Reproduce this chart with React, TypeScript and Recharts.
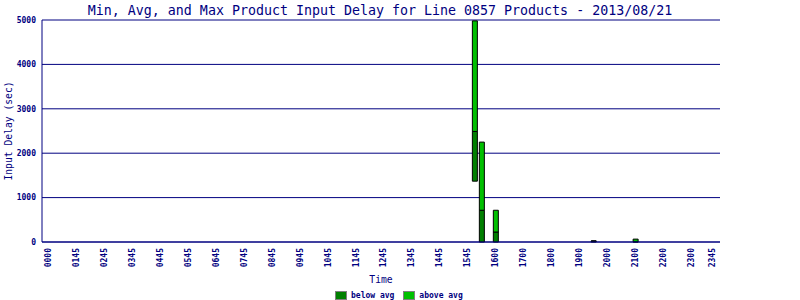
import { Bar, BarChart, CartesianGrid, XAxis, YAxis } from "recharts";

const NAVY = "#000080";
const DARK_GREEN = "#008000";
const LIGHT_GREEN = "#00c000";
const MONO = "'DejaVu Sans Mono', monospace";

// 15-minute slots across the day
const SLOTS: string[] = [];
for (let h = 0; h < 24; h++) {
  for (let m = 0; m < 60; m += 15) {
    SLOTS.push(String(h).padStart(2, "0") + String(m).padStart(2, "0"));
  }
}

const TICK_SLOTS = [
  "0000", "0100", "0200", "0300", "0400", "0500", "0600", "0700", "0800",
  "0900", "1000", "1100", "1200", "1300", "1400", "1500", "1600", "1700",
  "1800", "1900", "2000", "2100", "2200", "2300", "2345",
];
const TICK_LABELS = [
  "0000", "0145", "0245", "0345", "0445", "0545", "0645", "0745", "0845",
  "0945", "1045", "1145", "1245", "1345", "1445", "1545", "1600", "1700",
  "1800", "1900", "2000", "2100", "2200", "2300", "2345",
];

const ACTIVE_SLOTS = ["1515", "1530", "1600", "1930", "2100"];
const MIN_DELAY = [1370, 0, 0, 0, 0];
const AVG_DELAY = [2490, 715, 225, 20, 5];
const MAX_DELAY = [4980, 2250, 715, 25, 65];

const Y_TICKS = [0, 1000, 2000, 3000, 4000, 5000];

const rows = SLOTS.map((slot) => {
  const i = ACTIVE_SLOTS.indexOf(slot);
  if (i < 0) return { slot, base: null, below: null, above: null };
  return {
    slot,
    base: MIN_DELAY[i],
    below: AVG_DELAY[i] - MIN_DELAY[i],
    above: MAX_DELAY[i] - AVG_DELAY[i],
  };
});

function XTick({ x, y, payload }: any) {
  const idx = TICK_SLOTS.indexOf(payload.value);
  const label = idx >= 0 ? TICK_LABELS[idx] : payload.value;
  return (
    <text
      x={x}
      y={y}
      transform={`rotate(-90 ${x} ${y})`}
      textAnchor="end"
      dominantBaseline="central"
      fill={NAVY}
      fontFamily={MONO}
      fontSize={8}
      fontWeight="bold"
    >
      {label}
    </text>
  );
}

function YTitle({ viewBox }: any) {
  const cx = (viewBox?.x ?? 0) + 8;
  const cy = (viewBox?.y ?? 20) + (viewBox?.height ?? 222) / 2;
  return (
    <text
      x={cx}
      y={cy}
      transform={`rotate(-90 ${cx} ${cy})`}
      textAnchor="middle"
      dominantBaseline="central"
      fill={NAVY}
      fontFamily={MONO}
      fontSize={9.7}
    >
      Input Delay (sec)
    </text>
  );
}

function Swatch({ color, label }: { color: string; label: string }) {
  return (
    <div style={{ display: "flex", alignItems: "center", gap: 4 }}>
      <div
        style={{
          width: 12,
          height: 9,
          boxSizing: "border-box",
          border: "1px solid #808080",
          background: color,
        }}
      />
      <span
        style={{
          fontFamily: MONO,
          fontSize: 8,
          fontWeight: "bold",
          color: NAVY,
          lineHeight: "9px",
        }}
      >
        {label}
      </span>
    </div>
  );
}

export default function App() {
  return (
    <div
      style={{
        position: "absolute",
        left: 0,
        top: 0,
        width: 800,
        height: 300,
        background: "#fff",
        overflow: "hidden",
      }}
    >
      <div
        style={{
          position: "absolute",
          left: 0,
          top: 3,
          width: 760,
          textAlign: "center",
          fontFamily: MONO,
          fontSize: 13.3,
          color: NAVY,
          whiteSpace: "nowrap",
        }}
      >
        Min, Avg, and Max Product Input Delay for Line 0857 Products - 2013/08/21
      </div>

      <BarChart
        width={800}
        height={300}
        data={rows}
        margin={{ top: 20, right: 80, left: 0, bottom: 16 }}
        barSize={5}
      >
        <CartesianGrid
          yAxisId="l"
          horizontal
          vertical={false}
          stroke={NAVY}
          strokeOpacity={1}
        />
        <XAxis
          dataKey="slot"
          ticks={TICK_SLOTS}
          interval={0}
          tick={<XTick />}
          tickLine={false}
          tickSize={0}
          tickMargin={6}
          height={42}
          padding={{ left: 3, right: 4 }}
          axisLine={{ stroke: NAVY }}
          label={{
            value: "Time",
            position: "insideBottom",
            offset: 1,
            fill: NAVY,
            fontFamily: MONO,
            fontSize: 9.7,
          }}
        />
        <YAxis
          yAxisId="l"
          domain={[0, 5000]}
          ticks={Y_TICKS}
          width={42}
          tickSize={0}
          tickLine={false}
          tickMargin={6}
          axisLine={{ stroke: NAVY }}
          tick={{ fill: NAVY, fontFamily: MONO, fontSize: 8, fontWeight: "bold" }}
          label={<YTitle />}
        />
        <YAxis
          yAxisId="r"
          orientation="right"
          width={0}
          tick={false}
          tickLine={false}
          axisLine={{ stroke: NAVY }}
        />
        <Bar
          yAxisId="l"
          dataKey="base"
          stackId="d"
          fill="transparent"
          stroke="none"
          isAnimationActive={false}
        />
        <Bar
          yAxisId="l"
          dataKey="below"
          stackId="d"
          fill={DARK_GREEN}
          stroke="#000"
          strokeWidth={1}
          isAnimationActive={false}
        />
        <Bar
          yAxisId="l"
          dataKey="above"
          stackId="d"
          fill={LIGHT_GREEN}
          stroke="#000"
          strokeWidth={1}
          isAnimationActive={false}
        />
      </BarChart>

      <div
        style={{
          position: "absolute",
          left: 335,
          top: 291,
          display: "flex",
          gap: 9,
        }}
      >
        <Swatch color={DARK_GREEN} label="below avg" />
        <Swatch color={LIGHT_GREEN} label="above avg" />
      </div>
    </div>
  );
}
